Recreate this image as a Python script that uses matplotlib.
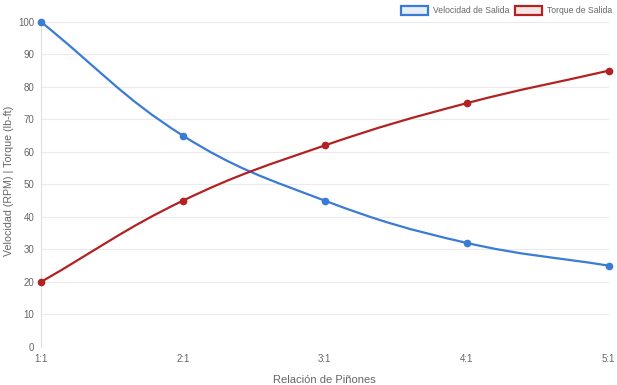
import numpy as np
import matplotlib.pyplot as plt
from matplotlib.path import Path
from matplotlib.patches import PathPatch, Rectangle

plt.rcParams['font.family'] = ['Liberation Sans', 'DejaVu Sans']

# datos
relaciones = ['1:1', '2:1', '3:1', '4:1', '5:1']
velocidad = [100, 65, 45, 32, 25]
torque = [20, 45, 62, 75, 85]

azul = '#3a7bd5'
rojo = '#b22222'

fig = plt.figure(figsize=(6.17, 3.85), dpi=100)
ax = fig.add_axes([0.0665, 0.099, 0.92, 0.844])

x = np.arange(len(relaciones))
# escala aprox. en pixeles para la curva suavizada
sx, sy = 142.0, 3.25


def curva(xs, ys, tension=0.4):
    pts = np.column_stack([np.array(xs, float) * sx, np.array(ys, float) * sy])
    n = len(pts)
    prev_cp, next_cp = [], []
    for i in range(n):
        p0 = pts[max(i - 1, 0)]
        p1 = pts[i]
        p2 = pts[min(i + 1, n - 1)]
        d01 = np.hypot(*(p1 - p0))
        d12 = np.hypot(*(p2 - p1))
        tot = d01 + d12
        s01 = d01 / tot if tot else 0
        s12 = d12 / tot if tot else 0
        prev_cp.append(p1 - tension * s01 * (p2 - p0))
        next_cp.append(p1 + tension * s12 * (p2 - p0))
    verts = [pts[0]]
    codes = [Path.MOVETO]
    for i in range(n - 1):
        verts += [next_cp[i], prev_cp[i + 1], pts[i + 1]]
        codes += [Path.CURVE4] * 3
    verts = np.array(verts) / [sx, sy]
    return Path(verts, codes)


for ys, col in [(velocidad, azul), (torque, rojo)]:
    ax.add_patch(PathPatch(curva(x, ys), facecolor='none', edgecolor=col, lw=1.6,
                           zorder=3, clip_on=False))
    ax.plot(x, ys, 'o', ms=4.5, color=col, mfc=col, mec=col, zorder=4, clip_on=False)

ax.set_xlim(0, 4)
ax.set_ylim(0, 100)
ax.set_xticks(x)
ax.set_xticklabels(relaciones)
ax.set_yticks(range(0, 101, 10))
ax.grid(axis='y', color='#ebebeb', lw=0.8)
ax.set_axisbelow(True)
for s in ['top', 'right', 'bottom']:
    ax.spines[s].set_visible(False)
ax.spines['left'].set_color('#e0e0e0')
ax.tick_params(colors='#666666', labelsize=7, length=0, pad=5)
ax.set_xlabel('Relación de Piñones', color='#666666', fontsize=8)
ax.set_ylabel('Velocidad (RPM) | Torque (lb-ft)', color='#666666', fontsize=7.7)
ax.yaxis.set_label_coords(-0.0476, 0.51)
ax.xaxis.set_label_coords(0.5, -0.085)

# leyenda tipo chart.js
def caja(x0, col, fill, texto):
    fig.add_artist(Rectangle((x0 / 617, 1 - 15 / 385), 27 / 617, 9 / 385,
                             transform=fig.transFigure, facecolor=fill,
                             edgecolor=col, lw=1.6))
    fig.text((x0 + 32) / 617, 1 - 10.5 / 385, texto, fontsize=6.2,
             color='#666666', va='center', ha='left')

caja(401, azul, '#e6eefa', 'Velocidad de Salida')
caja(515, rojo, '#f7e4e4', 'Torque de Salida')

fig.savefig('out.png', dpi=100)
